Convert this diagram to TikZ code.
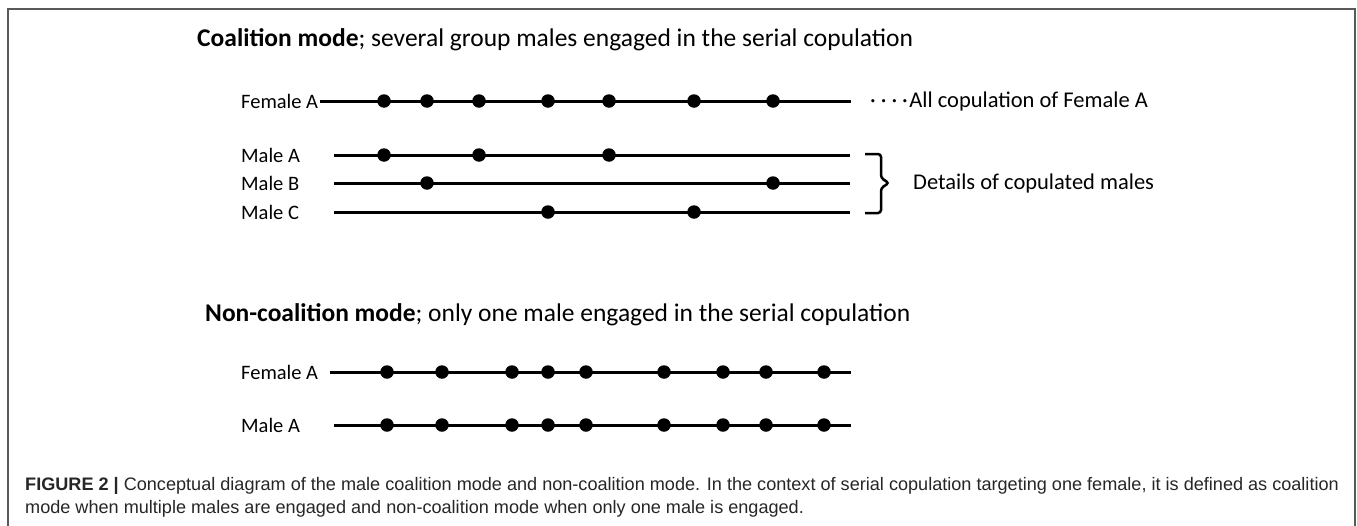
\documentclass[tikz,border=0pt]{standalone}
\usepackage{fontspec}
\setmainfont{Carlito}
\newfontfamily\capfont{Liberation Sans}
\begin{document}
\begin{tikzpicture}[x=1pt,y=-1pt,
  tl/.style={line width=3pt},
  cop/.style={circle,fill=black,inner sep=0pt,minimum size=13.5pt},
  lab/.style={anchor=west,inner sep=0pt,font=\fontsize{20.5}{24}\selectfont},
  rlab/.style={anchor=west,inner sep=0pt,font=\fontsize{22.5}{26}\selectfont},
  ttl/.style={anchor=base west,inner sep=0pt,font=\fontsize{25.5}{30}\selectfont},
  brc/.style={line width=2.5pt,rounded corners=3pt},
  captxt/.style={anchor=base west,inner sep=0pt,text=black!85,font=\capfont\fontsize{18.1}{22}\selectfont}]
  \useasboundingbox (0,0) rectangle (1357,525);
  \draw[line width=1.5pt,black!65] (8,530) -- (8,9) -- (1355,9) -- (1355,530);

  % coalition mode
  \node[ttl] (t1) at (197,46) {\textbf{Coalition mode}; several group males engaged in the serial copulation};
  \node[lab] (fa) at (241,101) {Female A};
  \node[lab] (ma) at (241,155) {Male A};
  \node[lab] (mb) at (241,183) {Male B};
  \node[lab] (mc) at (241,212) {Male C};
  \coordinate (fa-s) at (320,101);
  \coordinate (fa-e) at (851,101);
  \coordinate (ma-s) at (334,155);
  \coordinate (ma-e) at (850,155);
  \coordinate (mb-s) at (334,183);
  \coordinate (mb-e) at (850,183);
  \coordinate (mc-s) at (334,212);
  \coordinate (mc-e) at (850,212);
  \draw[tl] (fa-s) -- (fa-e);
  \draw[tl] (ma-s) -- (ma-e);
  \draw[tl] (mb-s) -- (mb-e);
  \draw[tl] (mc-s) -- (mc-e);
  \foreach \x [count=\i] in {384,427,479,548,609,694,773}
    \node[cop] (fa\i) at (\x,101) {};
  \foreach \x [count=\i] in {384,479,609}
    \node[cop] (ma\i) at (\x,155) {};
  \foreach \x [count=\i] in {427,773}
    \node[cop] (mb\i) at (\x,183) {};
  \foreach \x [count=\i] in {548,694}
    \node[cop] (mc\i) at (\x,212) {};
  \node[rlab] (all) at (870,101) {·\kern5pt·\kern5pt·\kern5pt·\kern1.5pt All copulation of Female A};
  \coordinate (br-t) at (865,154);
  \coordinate (br-tip) at (889,183);
  \coordinate (br-b) at (865,213);
  \draw[brc] (br-t) -- (881,154) -- (881,178) -- (br-tip) -- (881,188) -- (881,213) -- (br-b);
  \node[rlab] (det) at (913,183) {Details of copulated males};

  % non-coalition mode
  \node[ttl] (t2) at (205,321) {\textbf{Non-coalition mode}; only one male engaged in the serial copulation};
  \node[lab] (nf) at (241,372) {Female A};
  \node[lab] (nm) at (241,425) {Male A};
  \coordinate (nf-s) at (330,372);
  \coordinate (nf-e) at (851,372);
  \coordinate (nm-s) at (334,425);
  \coordinate (nm-e) at (851,425);
  \draw[tl] (nf-s) -- (nf-e);
  \draw[tl] (nm-s) -- (nm-e);
  \foreach \x [count=\i] in {387,442,512,548,586,664,723,766,824} {
    \node[cop] (nf\i) at (\x,372) {};
    \node[cop] (nm\i) at (\x,425) {};
  }

  % caption
  \node[captxt] (c1) at (25,490) {\textbf{FIGURE 2 |} Conceptual diagram of the male coalition mode and non-coalition mode. In the context of serial copulation targeting one female, it is defined as coalition};
  \node[captxt] (c2) at (25,513) {mode when multiple males are engaged and non-coalition mode when only one male is engaged.};
\end{tikzpicture}
\end{document}
